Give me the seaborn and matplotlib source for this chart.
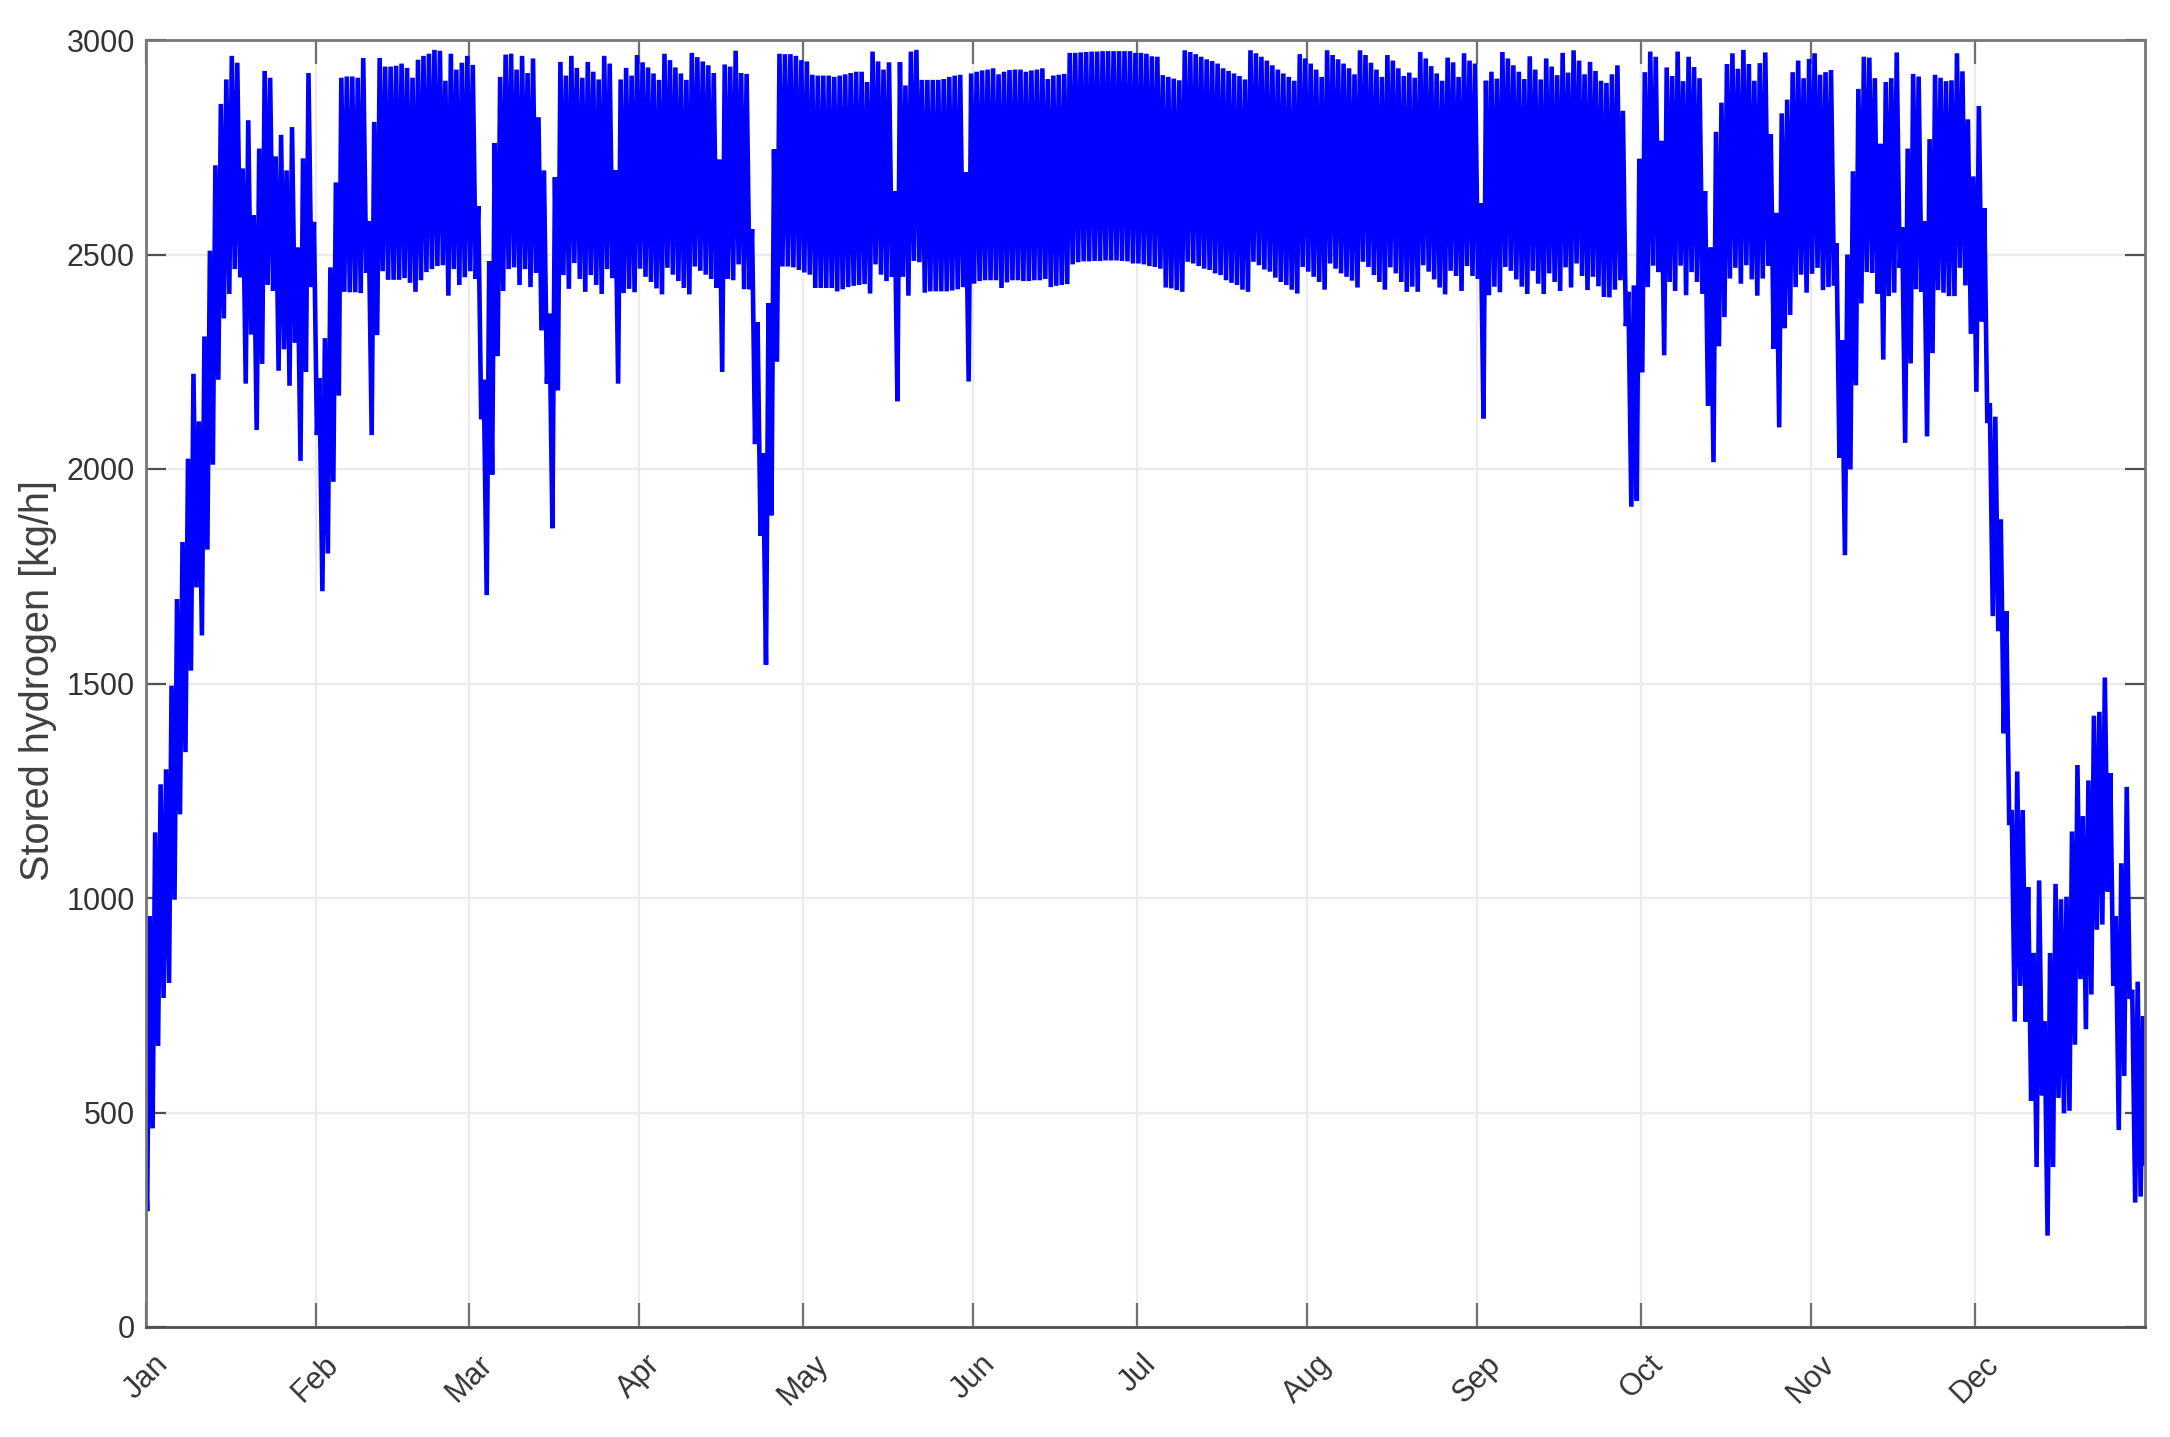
import pandas as pd
import seaborn as sns
import matplotlib.pyplot as plt

# Stored hydrogen, kg/h: one trough and one peak per day of the year
first_value = 371
last_value = 381

daily_low = [
    270, 463, 655, 767, 802, 996, 1195, 1340, 1530, 1724,
    1612, 1812, 2010, 2208, 2351, 2408, 2466, 2447, 2199, 2314,
    2091, 2245, 2429, 2415, 2229, 2279, 2194, 2295, 2019, 2226,
    2424, 2079, 1715, 1803, 1970, 2171, 2413, 2412, 2412, 2410,
    2457, 2079, 2312, 2461, 2441, 2441, 2441, 2445, 2434, 2413,
    2440, 2459, 2466, 2473, 2475, 2404, 2466, 2429, 2447, 2461,
    2443, 2116, 1706, 1987, 2263, 2415, 2466, 2470, 2429, 2466,
    2424, 2457, 2323, 2199, 1862, 2183, 2452, 2420, 2480, 2443,
    2413, 2452, 2429, 2408, 2466, 2445, 2199, 2410, 2420, 2412,
    2467, 2448, 2436, 2421, 2407, 2469, 2453, 2438, 2422, 2407,
    2472, 2462, 2453, 2443, 2422, 2226, 2443, 2440, 2477, 2419,
    2419, 2058, 1844, 1544, 1892, 2250, 2472, 2472, 2470, 2464,
    2458, 2453, 2422, 2422, 2422, 2422, 2414, 2419, 2424, 2427,
    2429, 2431, 2409, 2477, 2453, 2438, 2448, 2158, 2448, 2404,
    2485, 2482, 2411, 2414, 2414, 2414, 2414, 2416, 2419, 2424,
    2204, 2432, 2438, 2440, 2440, 2440, 2422, 2435, 2440, 2440,
    2438, 2438, 2440, 2440, 2443, 2424, 2427, 2429, 2431, 2477,
    2482, 2484, 2484, 2485, 2485, 2486, 2486, 2486, 2485, 2484,
    2479, 2479, 2477, 2473, 2471, 2467, 2423, 2421, 2417, 2413,
    2483, 2479, 2473, 2467, 2464, 2456, 2452, 2440, 2434, 2429,
    2418, 2413, 2483, 2475, 2465, 2460, 2446, 2436, 2429, 2418,
    2409, 2471, 2460, 2448, 2436, 2418, 2479, 2467, 2456, 2448,
    2439, 2423, 2483, 2471, 2452, 2436, 2418, 2470, 2456, 2436,
    2413, 2425, 2413, 2475, 2460, 2442, 2423, 2407, 2462, 2450,
    2415, 2473, 2450, 2444, 2118, 2405, 2425, 2412, 2471, 2462,
    2442, 2425, 2408, 2462, 2432, 2408, 2456, 2436, 2415, 2470,
    2423, 2479, 2450, 2417, 2448, 2426, 2401, 2400, 2418, 2440,
    2333, 1912, 1926, 2225, 2424, 2474, 2459, 2265, 2436, 2415,
    2474, 2405, 2459, 2436, 2409, 2147, 2016, 2286, 2354, 2444,
    2469, 2432, 2475, 2442, 2404, 2444, 2474, 2280, 2097, 2328,
    2359, 2424, 2453, 2411, 2455, 2469, 2417, 2424, 2428, 2026,
    1799, 1999, 2195, 2386, 2459, 2457, 2409, 2255, 2403, 2411,
    2469, 2061, 2246, 2419, 2413, 2076, 2270, 2417, 2411, 2403,
    2403, 2469, 2428, 2315, 2180, 2344, 2107, 1657, 1622, 1384,
    1170, 712, 795, 712, 528, 373, 540, 213, 373, 534,
    498, 504, 658, 811, 694, 775, 926, 938, 1015, 795,
    459, 585, 765, 290, 304,
]

daily_high = [
    958, 1153, 1265, 1300, 1495, 1697, 1830, 2024, 2222, 2111,
    2309, 2509, 2708, 2851, 2908, 2963, 2947, 2700, 2813, 2592,
    2747, 2928, 2912, 2728, 2779, 2696, 2797, 2516, 2724, 2923,
    2576, 2212, 2305, 2470, 2668, 2912, 2915, 2915, 2912, 2958,
    2578, 2809, 2958, 2938, 2938, 2940, 2945, 2935, 2912, 2954,
    2963, 2968, 2977, 2975, 2905, 2968, 2931, 2947, 2963, 2942,
    2613, 2208, 2484, 2760, 2914, 2966, 2968, 2931, 2963, 2923,
    2957, 2820, 2696, 2362, 2680, 2949, 2917, 2963, 2935, 2912,
    2949, 2926, 2908, 2963, 2945, 2696, 2908, 2935, 2917, 2965,
    2948, 2936, 2922, 2907, 2968, 2953, 2936, 2922, 2907, 2970,
    2960, 2950, 2941, 2923, 2721, 2943, 2938, 2975, 2923, 2921,
    2559, 2342, 2037, 2387, 2745, 2968, 2967, 2967, 2963, 2953,
    2950, 2919, 2917, 2917, 2917, 2914, 2917, 2920, 2923, 2926,
    2926, 2902, 2973, 2950, 2931, 2948, 2648, 2948, 2894, 2973,
    2977, 2907, 2907, 2907, 2907, 2909, 2914, 2917, 2919, 2692,
    2922, 2926, 2929, 2931, 2934, 2920, 2926, 2930, 2931, 2931,
    2926, 2929, 2931, 2934, 2909, 2917, 2919, 2921, 2970, 2970,
    2971, 2972, 2973, 2973, 2974, 2974, 2974, 2974, 2974, 2974,
    2970, 2970, 2968, 2962, 2961, 2918, 2914, 2910, 2906, 2976,
    2972, 2967, 2961, 2955, 2951, 2945, 2934, 2928, 2922, 2916,
    2908, 2976, 2969, 2961, 2952, 2941, 2931, 2922, 2914, 2905,
    2967, 2957, 2945, 2931, 2914, 2976, 2965, 2955, 2945, 2934,
    2920, 2976, 2965, 2947, 2931, 2914, 2965, 2952, 2934, 2916,
    2924, 2912, 2972, 2957, 2939, 2922, 2905, 2959, 2948, 2914,
    2969, 2952, 2945, 2619, 2905, 2926, 2910, 2972, 2957, 2941,
    2926, 2909, 2962, 2931, 2908, 2957, 2938, 2918, 2970, 2924,
    2976, 2952, 2920, 2949, 2928, 2905, 2900, 2920, 2941, 2835,
    2413, 2428, 2723, 2925, 2973, 2961, 2765, 2936, 2916, 2973,
    2904, 2961, 2937, 2911, 2648, 2517, 2786, 2854, 2944, 2969,
    2933, 2977, 2944, 2905, 2946, 2971, 2780, 2597, 2829, 2861,
    2925, 2952, 2911, 2956, 2969, 2919, 2925, 2930, 2526, 2300,
    2500, 2694, 2886, 2961, 2959, 2911, 2758, 2902, 2911, 2971,
    2563, 2747, 2921, 2915, 2578, 2769, 2919, 2912, 2904, 2906,
    2969, 2927, 2815, 2682, 2846, 2608, 2153, 2122, 1882, 1669,
    1205, 1295, 1205, 1025, 872, 1041, 712, 872, 1033, 997,
    1003, 1155, 1310, 1191, 1274, 1425, 1434, 1514, 1291, 958,
    1081, 1259, 786, 805, 724,
]

month_labels = ['Jan', 'Feb', 'Mar', 'Apr', 'May', 'Jun', 'Jul', 'Aug', 'Sep', 'Oct', 'Nov', 'Dec']
y_ticks = [0, 500, 1000, 1500, 2000, 2500, 3000]

# Trough in the early morning, peak in the afternoon
year_start = pd.Timestamp('2021-01-01')
times = [year_start]
stored = [first_value]
for day, (low, high) in enumerate(zip(daily_low, daily_high)):
    times.append(year_start + pd.Timedelta(hours=day * 24 + 5))
    stored.append(low)
    times.append(year_start + pd.Timedelta(hours=day * 24 + 16))
    stored.append(high)
times.append(year_start + pd.Timedelta(hours=364 * 24 + 22))
stored.append(last_value)
df = pd.DataFrame({'time': times, 'stored': stored})

sns.set_theme(style='whitegrid')
plt.rcParams['font.family'] = ['Liberation Sans', 'DejaVu Sans']

fig = plt.figure(figsize=(21.7, 14.37), dpi=100)
ax = fig.add_axes([146 / 2170, 1 - 1327 / 1437, 1999 / 2170, 1287 / 1437])

sns.lineplot(data=df, x='time', y='stored', color='#0000ff', linewidth=3.3,
             solid_joinstyle='bevel', estimator=None, ax=ax)

ax.set_xlim(year_start, pd.Timestamp('2022-01-01'))
ax.set_ylim(0, 3000)
ax.set_xticks(pd.date_range('2021-01-01', periods=12, freq='MS'))
ax.set_xticklabels(month_labels, rotation=45, ha='center')
ax.set_yticks(y_ticks)
ax.set_xlabel('')
ax.set_ylabel('Stored hydrogen [kg/h]', fontsize=28.5, color='#404040')
ax.yaxis.set_label_coords(-0.0445, 0.502)

ax.grid(True, color='#ebebeb', linewidth=1.6)
ax.tick_params(axis='x', direction='in', bottom=True, top=True, length=17, width=1.6,
               color='#707070', labelsize=22, labelcolor='#333333', pad=16)
ax.tick_params(axis='y', direction='in', left=True, right=True, length=14.5, width=1.6,
               color='#505050', labelsize=22, labelcolor='#333333', pad=8)
for side in ax.spines:
    ax.spines[side].set_color('#777777')
    ax.spines[side].set_linewidth(2)
ax.spines['bottom'].set_color('#505050')

fig.savefig('out.png', dpi=100)
